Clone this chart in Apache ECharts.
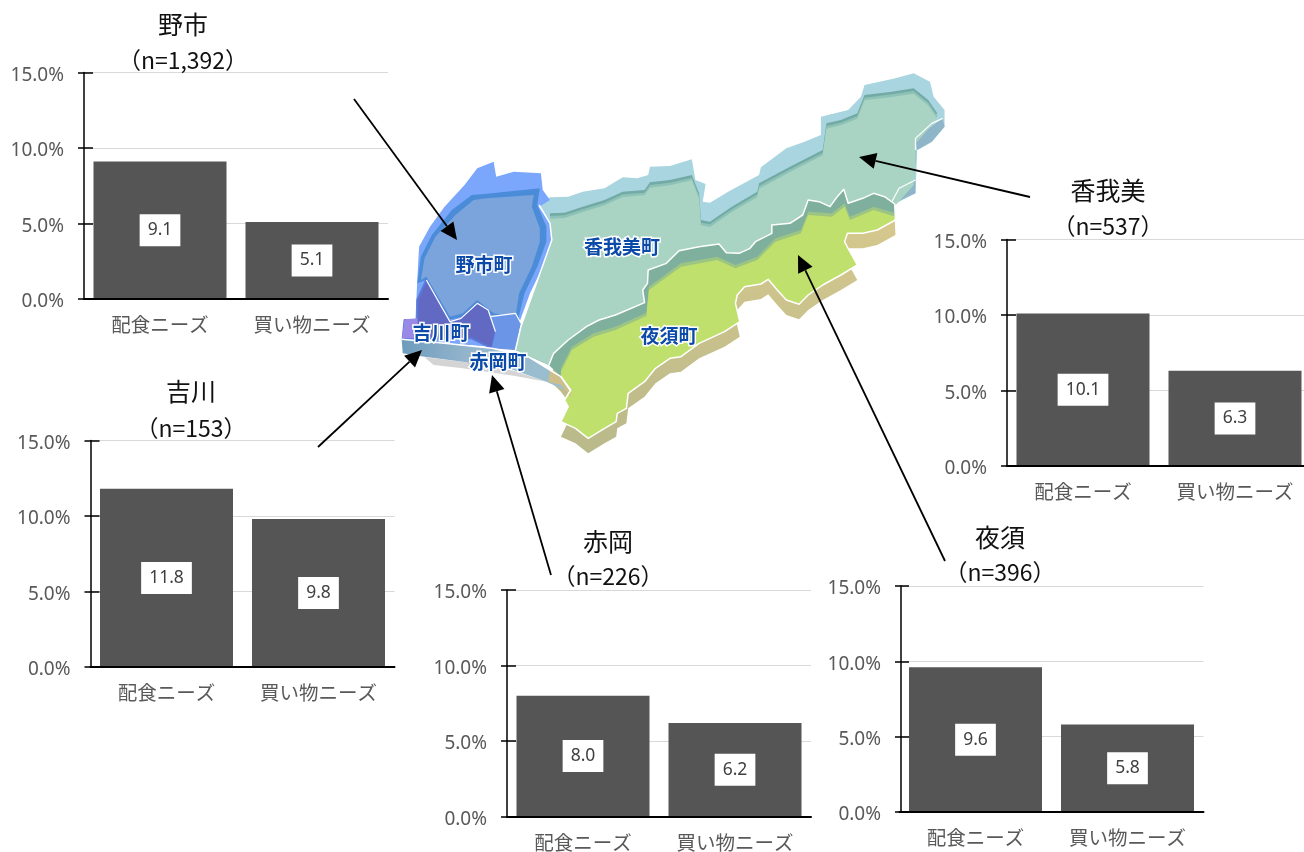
<!DOCTYPE html>
<html><head><meta charset="utf-8">
<style>html,body{margin:0;padding:0;background:#fff;overflow:hidden;width:1304px;height:852px}#c{width:1330px;height:852px}</style>
<script src="https://cdn.jsdelivr.net/npm/echarts@6/dist/echarts.min.js"></script>
</head><body><div id="c"></div>
<script>
const categories = ['配食ニーズ', '買い物ニーズ'];
const regions = ['野市', '香我美', '吉川', '赤岡', '夜須'];
const counts = ['（n=1,392）', '（n=537）', '（n=153）', '（n=226）', '（n=396）'];
const noichiValues = [9.1, 5.1];
const kagamiValues = [10.1, 6.3];
const yoshikawaValues = [11.8, 9.8];
const akaokaValues = [8.0, 6.2];
const yasuValues = [9.6, 5.8];
const allValues = [noichiValues, kagamiValues, yoshikawaValues, akaokaValues, yasuValues];
const axisMax = 15, axisStep = 5;

// layout of the five small charts: left, top, bottom of plot, axis offset, title centre, title y, n y
const frames = [
  {x:84, t:72.5, b:299, off:0, cx:183, ty:24, ny:60},
  {x:1007, t:239.5, b:466, off:0, cx:1108, ty:190, ny:226},
  {x:90.5, t:440.5, b:667, off:0, cx:191, ty:391, ny:428},
  {x:507, t:590, b:816.5, off:0, cx:608, ty:541, ny:576},
  {x:899.5, t:586, b:812, off:-1.5, cx:1000, ty:537, ny:572}
];
const plotW = 304;

const chart = echarts.init(document.getElementById('c'), null, {renderer:'canvas'});
const grid = [], xAxis = [], yAxis = [], series = [], graphic = [];
const JP = '"Noto Sans CJK JP","Noto Sans",sans-serif';

frames.forEach((f, i) => {
  grid.push({left:f.x, top:f.t, width:plotW, height:f.b - f.t, containLabel:false});
  xAxis.push({type:'category', gridIndex:i, data:categories,
    axisLine:{lineStyle:{color:'#000', width:2}}, axisTick:{show:false},
    axisLabel:{color:'#595959', fontSize:19.5, fontFamily:JP, margin:16, interval:0},
    z:5});
  yAxis.push({type:'value', gridIndex:i, min:0, max:axisMax, interval:axisStep, offset:f.off,
    axisLine:{show:true, lineStyle:{color:'#000', width:1.5}},
    axisTick:{show:true, length:6, lineStyle:{color:'#000', width:1.5}},
    axisLabel:{margin:20, formatter:v => '{t|' + v.toFixed(1) + '%}',
      rich:{t:{color:'#595959', fontSize:19, fontFamily:'"Noto Sans",sans-serif', padding:[6,0,0,0]}}},
    splitLine:{show:true, lineStyle:{color:'#d9d9d9', width:1}}, z:1});
  yAxis.push({type:'value', gridIndex:i, min:0, max:axisMax, interval:axisStep, position:'left', offset:f.off,
    axisLine:{show:false},
    axisTick:{show:true, inside:true, length:f.off ? 8 : 9, lineStyle:{color:'#000', width:1.5}},
    axisLabel:{show:false}, splitLine:{show:false}, z:1});
  series.push({type:'bar', xAxisIndex:i, yAxisIndex:i * 2, data:allValues[i], barWidth:133,
    itemStyle:{color:'#555555'}, z:2,
    label:{show:true, position:'inside', formatter:p => p.value.toFixed(1),
      backgroundColor:'#fff', color:'#404040', fontSize:17.5, lineHeight:18, fontFamily:'"Noto Sans",sans-serif',
      padding:[7, 8, 7, 8]}});
  graphic.push({type:'text', z:20, style:{text:regions[i], x:f.cx, y:f.ty, align:'center', verticalAlign:'middle',
    fontSize:25, fontFamily:JP, fill:'#111'}});
  graphic.push({type:'text', z:20, style:{text:counts[i], x:f.cx, y:f.ny, align:'center', verticalAlign:'middle',
    fontSize:23, fontFamily:JP, fill:'#111'}});
});

// Decorative map, outlines traced in a working coordinate system
const P = a => a.map(p => [390 + p[0] / 2.75, 60 + p[1] / 3]);
const shift = (a, d) => a.map(p => [p[0], p[1] + d]);
const poly = (pts, fill, stroke, lw) => graphic.push({type:'polygon', z:3,
  shape:{points:P(pts)}, style:{fill, stroke:stroke || 'none', lineWidth:lw || 0, lineJoin:'round'}});
const line = (pts, color, lw) => graphic.push({type:'polyline', z:4, shape:{points:P(pts)},
  style:{stroke:color, lineWidth:lw, fill:'none', lineJoin:'round'}});

const yasuNorth = [[437,915],[450,880],[490,840],[540,800],[575,780],[620,765],[700,728],[695,690],[708,670],[710,630],[760,610],[795,572],[850,560],[905,552],[925,578],[960,580],[990,565],[1005,545],[1050,520],[1050,495],[1100,490],[1135,465],[1150,420],[1180,425],[1210,440],[1230,410],[1248,388],[1260,430],[1300,415],[1330,400],[1360,410],[1388,432]];
const yasuSouth = [[1390,480],[1340,510],[1300,520],[1258,520],[1250,545],[1262,570],[1285,615],[1240,645],[1190,675],[1150,705],[1125,733],[1090,720],[1065,690],[1040,658],[1020,672],[975,680],[955,705],[950,730],[962,785],[920,815],[850,850],[800,890],[770,895],[730,925],[700,965],[655,1000],[650,1045],[625,1060],[622,1085],[590,1105],[545,1135],[510,1105],[470,1085],[490,1040],[480,1020],[497,990],[470,950]];
const limeNorth = [[470,935],[500,870],[560,830],[620,810],[705,768],[712,690],[800,620],[900,600],[950,625],[1010,600],[1060,545],[1130,520],[1150,465],[1215,470],[1250,440],[1265,480],[1330,450],[1390,470]];

const kagamiTop = [[410,435],[440,412],[490,410],[530,395],[590,385],[640,352],[680,355],[710,345],[715,320],[770,318],[830,298],[840,360],[868,372],[860,425],[880,428],[930,395],[1015,345],[1020,322],[1090,265],[1140,245],[1185,225],[1185,170],[1260,150],[1295,110],[1305,75],[1390,55],[1440,40],[1485,65],[1495,110],[1525,150],[1525,200],[1490,245],[1450,270],[1445,400],[1388,432]];
const kagamiWest = [[345,870],[360,800],[445,540],[440,490]];
const kagamiOuter = [...kagamiTop, ...yasuNorth.slice().reverse(), ...kagamiWest];
const kagamiInnerTop = [[440,460],[480,458],[530,440],[590,420],[640,395],[700,390],[715,367],[770,360],[830,345],[850,400],[855,480],[880,485],[940,440],[1010,395],[1015,370],[1100,320],[1190,270],[1200,190],[1240,180],[1285,160],[1305,105],[1380,95],[1440,85],[1480,120],[1505,160],[1445,235],[1445,300],[1440,360],[1390,420]];
const kagamiBottom = [...yasuNorth.slice().reverse(), ...kagamiWest];
const kagamiEastA = [[1520,175],[1525,200],[1490,245],[1450,270],[1445,235]];
const kagamiEastB = [[1445,360],[1445,400],[1385,430],[1400,385]];
const noichiOuter = [[80,560],[110,500],[150,440],[205,375],[240,325],[285,305],[292,350],[340,335],[415,340],[420,390],[440,420],[410,440],[440,490],[445,540],[420,620],[385,700],[355,790],[345,870],[280,860],[150,850],[35,840],[40,780],[70,780],[75,660]];
const noichiMain = [[85,590],[115,525],[170,450],[225,405],[260,402],[412,385],[405,435],[430,500],[430,545],[405,620],[370,700],[352,780],[280,770],[240,730],[200,770],[160,780],[100,660],[75,670]];
const noichiCore = [[95,595],[125,530],[180,465],[230,420],[265,415],[395,405],[390,440],[412,505],[412,545],[390,620],[355,700],[345,770],[285,760],[240,720],[200,760],[165,770],[100,650],[85,660]];
const yoshikawa = [[100,660],[75,720],[75,780],[40,780],[35,835],[225,835],[280,865],[290,815],[270,750],[240,730],[195,775],[165,785]];
const yoshikawaWest = [[75,775],[40,778],[33,835],[80,835]];
const akaokaBlock = [[275,770],[345,760],[360,790],[345,870],[280,865],[290,815]];
const coast = [[32,838],[150,850],[280,865],[380,890],[440,930],[470,950],[495,990],[480,990],[430,965],[340,930],[200,905],[95,890],[35,880]];
const coastShadow = [[95,892],[200,905],[340,932],[430,965],[340,947],[200,925],[120,915]];
const coastEnd = [[440,930],[470,950],[497,990],[497,1010],[470,975],[435,965]];

const coastGradient = new echarts.graphic.LinearGradient(0,0,1,0,[{offset:0,color:'#6d9cbc'},{offset:0.4,color:'#95b5cd'},{offset:1,color:'#9cc0cf'}]);
const wallGradient = new echarts.graphic.LinearGradient(0,0,0,1,[{offset:0,color:'#d8c98e'},{offset:1,color:'#b9b98a'}]);

poly(coastShadow, '#d4d4d4');
poly(shift(yasuNorth.concat(yasuSouth), 45), wallGradient);
poly(kagamiOuter, '#a8d5e0');
poly(kagamiEastA, '#8fb5c9');
poly(kagamiEastB, '#8fb5c9');
poly(kagamiInnerTop.concat(kagamiBottom), '#72aaa5');
poly(shift(kagamiInnerTop, 8).concat(kagamiBottom), '#8fc2b6');
poly(shift(kagamiInnerTop, 16).concat(kagamiBottom), '#a9d4c4');
poly(yasuNorth.concat(yasuSouth), '#7fb09e');
poly(shift(limeNorth, -10).concat(yasuSouth), '#9cc484');
poly(limeNorth.concat(yasuSouth), '#bfe06c');
poly(noichiOuter, '#7aa6fb');
poly(noichiMain, '#4b8cd9');
poly(noichiCore, '#7ba4dc');
poly(yoshikawa, '#6269c2', '#5a78d8', 2);
poly(yoshikawaWest, '#9a8ae8');
poly(akaokaBlock, '#6b96e8');
poly(coast, coastGradient);
poly(coastEnd, '#cdbf8c');
line(yasuNorth.concat([[1390,480]]), '#fff', 1.5);
line(yasuSouth, '#fff', 1.5);
line([[410,435],[440,490],[445,540],[360,800],[345,870]], '#fff', 1.5);
line([[32,838],[150,850],[280,865],[380,890],[440,930],[470,950],[495,990]], '#fff', 1.5);
line([[100,660],[165,785],[195,775],[240,730],[270,750],[290,815]], '#fff', 1.2);
line([[275,770],[345,760],[360,790]], '#fff', 1.2);
line([[1520,175],[1490,190],[1445,235],[1445,270]], '#fff', 1.2);
line([[1445,360],[1400,385],[1380,425]], '#fff', 1.2);

const mapLabels = [['野市町',484,265],['香我美町',622,247],['夜須町',669,336],['吉川町',441,333],['赤岡町',498,362]];
mapLabels.forEach(m => graphic.push({type:'text', z:6, style:{text:m[0], x:m[1], y:m[2], align:'center', verticalAlign:'middle',
  fontSize:19, fontWeight:'bold', fontFamily:JP, fill:'#0b4aa8', stroke:'#fff', lineWidth:3}}));

// Leader arrows
const arrows = [[354,99,457,240],[1030,197,859,157],[318,447,422,350],[551,575,492,375],[945,561,798,255]];
arrows.forEach(a => {
  const [x0,y0,x1,y1] = a, L = Math.hypot(x1-x0,y1-y0), ux=(x1-x0)/L, uy=(y1-y0)/L, h=17, w=8;
  const bx=x1-ux*h, by=y1-uy*h;
  graphic.push({type:'line', z:10, shape:{x1:x0,y1:y0,x2:bx,y2:by}, style:{stroke:'#000', lineWidth:1.8}});
  graphic.push({type:'polygon', z:10, shape:{points:[[x1,y1],[bx-uy*w,by+ux*w],[bx+uy*w,by-ux*w]]}, style:{fill:'#000'}});
});

chart.setOption({animation:false, backgroundColor:'#fff', grid, xAxis, yAxis, series, graphic});
</script></body></html>
